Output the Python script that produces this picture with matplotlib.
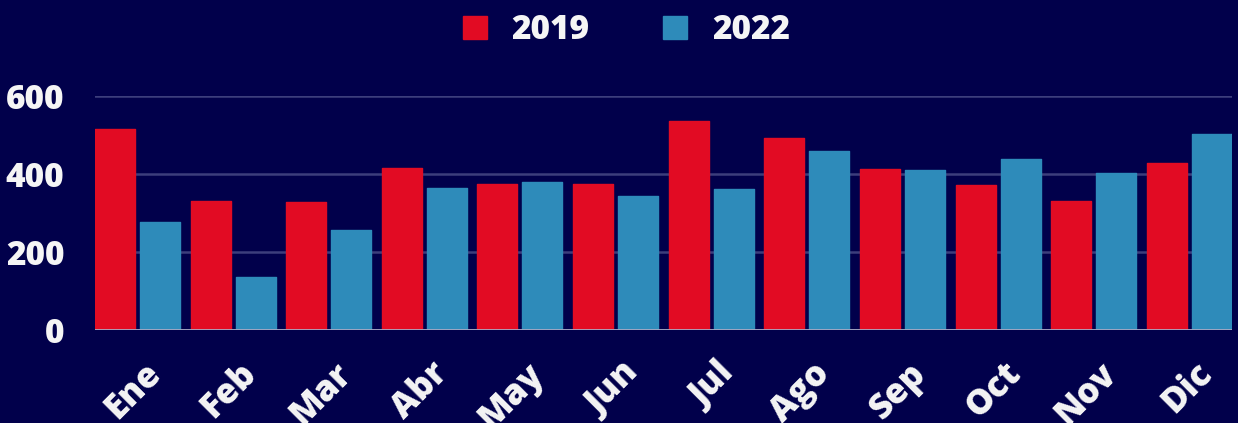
import numpy as np
import matplotlib.pyplot as plt
from matplotlib.patches import Patch
import matplotlib.transforms as mtransforms

plt.rcParams['font.family'] = ['Open Sans', 'DejaVu Sans']
plt.rcParams['font.weight'] = 800

months = ['Ene', 'Feb', 'Mar', 'Abr', 'May', 'Jun', 'Jul', 'Ago', 'Sep', 'Oct', 'Nov', 'Dic']
v2019 = [514, 329, 327, 415, 374, 374, 534, 491, 412, 370, 329, 427]
v2022 = [277, 136, 256, 363, 378, 342, 361, 459, 409, 438, 403, 501]
series = ['2019', '2022']
yticks = [0, 200, 400, 600]

bg = '#01004b'
red = '#e20b23'
blue = '#2e8bba'

fig = plt.figure(figsize=(12.38, 4.23), dpi=100, facecolor=bg)
ax = fig.add_axes([0.0767, 0.2206, 0.9183, 0.5532], facecolor=bg)

x = np.arange(len(months))
w = 0.418
off = 0.235
ax.bar(x - off, v2019, w, color=red, edgecolor=red, linewidth=1.0, joinstyle='round', zorder=3)
ax.bar(x + off, v2022, w, color=blue, edgecolor=blue, linewidth=1.0, joinstyle='round', zorder=3)

ax.set_xlim(-0.444, len(months) - 1 + 0.444)
ax.set_ylim(0, 600)
ax.set_yticks(yticks)
ax.yaxis.grid(True, color='#3c3e7c', linewidth=1.8, zorder=0)
ax.axhline(0, color='#a9a9c4', linewidth=2, zorder=4)
for s in ax.spines.values():
    s.set_visible(False)
ax.tick_params(axis='y', length=0, pad=22, labelsize=24, labelcolor='#f5f5f5')
ax.tick_params(axis='x', length=0, pad=0, labelsize=25, labelcolor='#f5f5f5')
ax.set_xticks(x)
ax.set_xticklabels(months, rotation=45, ha='right', va='top', rotation_mode='anchor')
shift = mtransforms.ScaledTranslation(4 / 72, -19 / 72, fig.dpi_scale_trans)
for lab in ax.get_xticklabels():
    lab.set_transform(lab.get_transform() + shift)

handles = [Patch(facecolor=red, edgecolor=red), Patch(facecolor=blue, edgecolor=blue)]
fig.legend(handles, series, loc='upper center', bbox_to_anchor=(0.506, 1.04), ncol=2,
           frameon=False, fontsize=24, labelcolor='#f5f5f5',
           handlelength=0.72, handleheight=0.72, handletextpad=0.75, columnspacing=2.2)

fig.savefig('out.png', dpi=100, facecolor=bg)
